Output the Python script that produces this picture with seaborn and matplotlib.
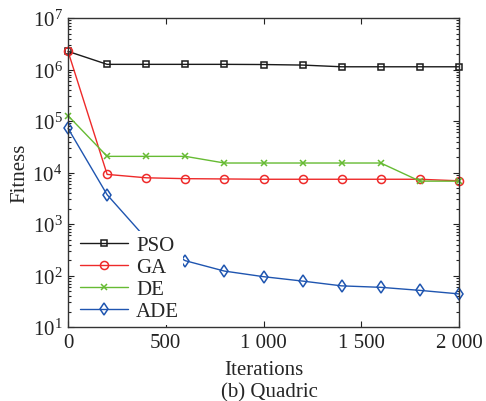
import numpy as np
import pandas as pd
import matplotlib
matplotlib.use("Agg")
import matplotlib.pyplot as plt
import seaborn as sns
from matplotlib.ticker import LogLocator, LogFormatterMathtext, FixedLocator, NullFormatter

iterations = [0, 200, 400, 600, 800, 1000, 1200, 1400, 1600, 1800, 2000]
pso = [2.25e6, 1.26e6, 1.26e6, 1.26e6, 1.26e6, 1.25e6, 1.22e6, 1.13e6, 1.13e6, 1.13e6, 1.13e6]
ga = [2.25e6, 9.2e3, 7.9e3, 7.6e3, 7.5e3, 7.4e3, 7.4e3, 7.4e3, 7.4e3, 7.4e3, 6.9e3]
de = [1.27e5, 2.06e4, 2.06e4, 2.06e4, 1.53e4, 1.53e4, 1.53e4, 1.53e4, 1.53e4, 6.8e3, 6.8e3]
ade = [7.2e4, 3.7e3, 520, 194, 122, 95, 78, 63, 59, 51.5, 44]

series_names = ["PSO", "GA", "DE", "ADE"]
xtick_vals = [0, 500, 1000, 1500, 2000]
xtick_labels = ["0", "500", "1 000", "1 500", "2 000"]

sns.set_theme(style="ticks")
plt.rcParams["font.family"] = ["Liberation Serif", "DejaVu Serif"]
plt.rcParams["mathtext.fontset"] = "stix"

fig = plt.figure(figsize=(4.86, 4.02), dpi=100)
ax = fig.add_axes([0.14, 0.184, 0.8044, 0.7687])

styles = {
    "PSO": dict(color="#1a1a1a", marker="s", ms=4.4),
    "GA": dict(color="#ee2a2a", marker="o", ms=5.8),
    "DE": dict(color="#66bb33", marker="x", ms=3.8),
    "ADE": dict(color="#1f55b0", marker="d", ms=6.3),
}
data = {"PSO": pso, "GA": ga, "DE": de, "ADE": ade}

for name in series_names:
    st = styles[name]
    sns.lineplot(x=iterations, y=data[name], ax=ax, color=st["color"],
                 marker=st["marker"], markersize=st["ms"],
                 markerfacecolor="none", markeredgecolor=st["color"],
                 markeredgewidth=1.1, linewidth=1.0, label=name,
                 clip_on=False, legend=False)
handles = list(ax.lines)

ax.set_yscale("log")
ax.set_ylim(10, 1e7)
ax.set_xlim(0, 2000)
ax.xaxis.set_major_locator(FixedLocator(xtick_vals))
ax.set_xticklabels(xtick_labels)
ax.yaxis.set_major_locator(LogLocator(base=10, numticks=10))
ax.yaxis.set_major_formatter(LogFormatterMathtext())
ax.yaxis.set_minor_locator(LogLocator(base=10, subs=np.arange(2, 10), numticks=20))
ax.yaxis.set_minor_formatter(NullFormatter())

ax.tick_params(axis="both", which="both", direction="in", top=True, right=True,
               labelsize=15, colors="#222222", width=0.8)
ax.tick_params(axis="both", which="major", length=4, pad=4)
ax.tick_params(axis="y", which="minor", length=2)
for sp in ax.spines.values():
    sp.set_color("#333333")
    sp.set_linewidth(1.0)

ax.set_xlabel("Iterations", fontsize=15, labelpad=6)
ax.set_ylabel("Fitness", fontsize=15, labelpad=2)
fig.text(0.555, 0.022, "(b) Quadric", ha="center", va="center", fontsize=15)

leg = ax.legend(handles=handles, labels=series_names, loc="upper left",
                bbox_to_anchor=(0.02, 0.31), borderaxespad=0, frameon=True,
                fontsize=15, handlelength=2.3, handletextpad=0.4,
                labelspacing=0.12, borderpad=0.2)
leg.get_frame().set_edgecolor("none")
leg.get_frame().set_facecolor("white")
leg.get_frame().set_alpha(1)

fig.savefig("out.png", dpi=100)
